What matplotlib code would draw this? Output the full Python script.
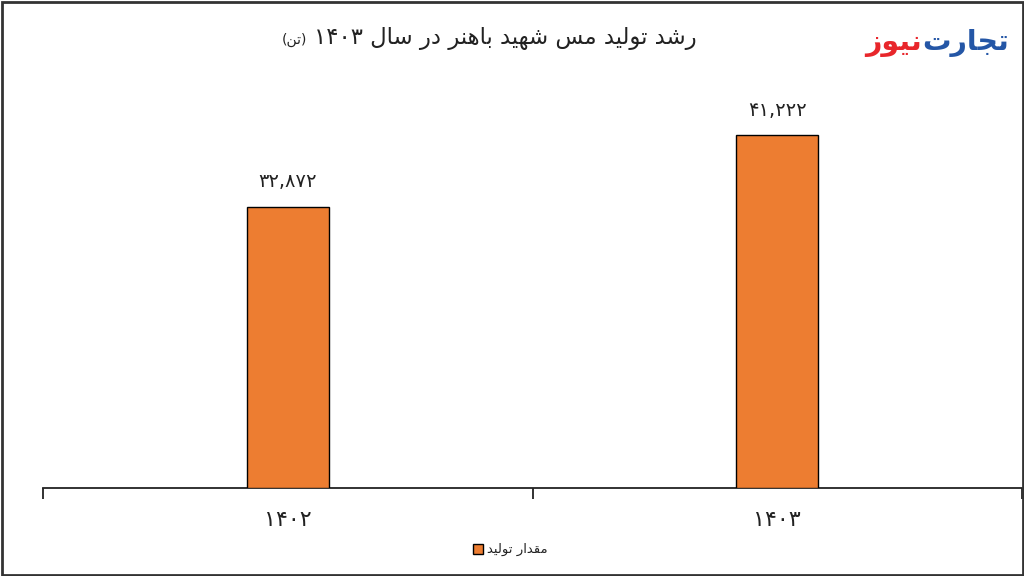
import matplotlib
matplotlib.use("Agg")
import matplotlib.pyplot as plt
from matplotlib.patches import Rectangle

# ---------------- data ----------------
categories = ["۱۴۰۲", "۱۴۰۳"]
values = [32872, 41222]
value_labels = ["۳۲,۸۷۲", "۴۱,۲۲۲"]
title_text = "رشد تولید مس شهید باهنر در سال ۱۴۰۳"
title_unit = "(تن)"
legend_label = "مقدار تولید"
logo_blue = "تجارت"
logo_red = "نیوز"

# ---------------- minimal Arabic/Persian shaping ----------------
FORMS = {  # isolated, final, initial, medial
    'ا': ('\uFE8D', '\uFE8E', None, None),
    'ب': ('\uFE8F', '\uFE90', '\uFE91', '\uFE92'),
    'ت': ('\uFE95', '\uFE96', '\uFE97', '\uFE98'),
    'ج': ('\uFE9D', '\uFE9E', '\uFE9F', '\uFEA0'),
    'د': ('\uFEA9', '\uFEAA', None, None),
    'ر': ('\uFEAD', '\uFEAE', None, None),
    'ز': ('\uFEAF', '\uFEB0', None, None),
    'س': ('\uFEB1', '\uFEB2', '\uFEB3', '\uFEB4'),
    'ش': ('\uFEB5', '\uFEB6', '\uFEB7', '\uFEB8'),
    'ق': ('\uFED5', '\uFED6', '\uFED7', '\uFED8'),
    'ل': ('\uFEDD', '\uFEDE', '\uFEDF', '\uFEE0'),
    'م': ('\uFEE1', '\uFEE2', '\uFEE3', '\uFEE4'),
    'ن': ('\uFEE5', '\uFEE6', '\uFEE7', '\uFEE8'),
    'ه': ('\uFEE9', '\uFEEA', '\uFEEB', '\uFEEC'),
    'و': ('\uFEED', '\uFEEE', None, None),
    'ی': ('\uFBFC', '\uFBFD', '\uFBFE', '\uFBFF'),
}


def dual(c):
    return c in FORMS and FORMS[c][2] is not None


def shape(text):
    out = []
    n = len(text)
    for i, c in enumerate(text):
        if c not in FORMS:
            out.append(c)
            continue
        prev = text[i - 1] if i > 0 else ''
        nxt = text[i + 1] if i + 1 < n else ''
        jp = dual(prev)
        jn = dual(c) and nxt in FORMS
        iso, fin, ini, med = FORMS[c]
        if jp and jn:
            out.append(med)
        elif jp:
            out.append(fin)
        elif jn:
            out.append(ini)
        else:
            out.append(iso)
    s = ''.join(out)[::-1]
    # restore digit runs to LTR, mirror brackets
    res, run = [], []
    digits = set('۰۱۲۳۴۵۶۷۸۹0123456789,')
    for ch in s:
        if ch in digits:
            run.append(ch)
        else:
            if run:
                res.extend(run[::-1]); run = []
            res.append({'(': ')', ')': '('}.get(ch, ch))
    if run:
        res.extend(run[::-1])
    return ''.join(res)


plt.rcParams['font.family'] = ['DejaVu Sans']

fig = plt.figure(figsize=(10.24, 5.76), dpi=100)
W, H = 1024, 576
ax = fig.add_axes([43 / W, (576 - 488) / H, (1022 - 43) / W, (488 - 60) / H])

orange = '#ED7D31'
x = list(range(len(categories)))
bars = ax.bar(x, values, width=0.167, color=orange, edgecolor='black', linewidth=1.0,
              zorder=3)
for xi, v, lab in zip(x, values, value_labels):
    ax.annotate(lab, (xi, v), xytext=(0, 11), textcoords='offset points',
                ha='center', va='bottom', fontsize=14, color='#222222')

ax.set_xlim(-0.5, 1.5)
ax.set_ylim(0, 50000)
ax.set_yticks([])
for s in ['left', 'right', 'top']:
    ax.spines[s].set_visible(False)
ax.spines['bottom'].set_linewidth(1.3)
ax.spines['bottom'].set_color('#222222')
ax.set_xticks([-0.5, 0.5, 1.5], minor=False)
ax.set_xticklabels([])
ax.tick_params(axis='x', which='major', direction='out', length=8, width=1.3,
               color='#222222')
ax.set_xticks(x, minor=True)
ax.set_xticklabels(categories, minor=True, fontsize=16)
ax.tick_params(axis='x', which='minor', length=0, pad=16, labelcolor='#222222')

# title
fig.text(697 / W, 1 - 38 / H, shape(title_text), ha='right', va='center',
         fontsize=16.4, color='#222222')
fig.text(294 / W, 1 - 40 / H, shape(title_unit), ha='center', va='center',
         fontsize=10, color='#222222')

# logo
fig.text(922 / W, 1 - 43 / H, shape(logo_blue), ha='left', va='center',
         fontsize=20.5, fontweight='bold', color='#2456A6')
fig.text(922 / W, 1 - 43 / H, shape(logo_red), ha='right', va='center',
         fontsize=20.5, fontweight='bold', color='#E8262B')

# legend
lx, ly = 478 / W, 1 - 549 / H
fig.patches.append(Rectangle((lx - 5 / W, ly - 5 / H), 10 / W, 10 / H,
                             transform=fig.transFigure, facecolor=orange,
                             edgecolor='black', linewidth=1.0))
fig.text(lx + 9 / W, ly, shape(legend_label), ha='left', va='center',
         fontsize=9.5, color='#222222')

# figure border
fig.patches.append(Rectangle((1.5 / W, 1.5 / H), (W - 3) / W, (H - 3) / H,
                             transform=fig.transFigure, facecolor='none',
                             edgecolor='#333333', linewidth=2))

fig.savefig('out.png', dpi=100)
